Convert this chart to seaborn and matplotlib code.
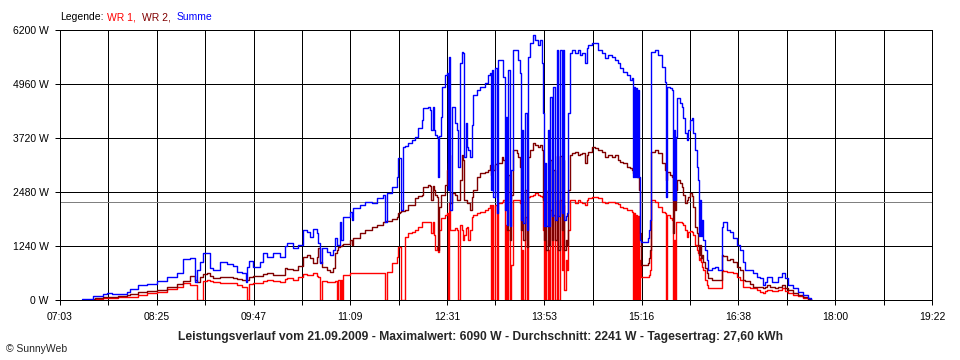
import matplotlib
matplotlib.use("Agg")
import matplotlib.pyplot as plt
import seaborn as sns
import pandas as pd

# ---------------- data (minutes after midnight, watts) ----------------
time_min = [
    441.6, 451.0, 452.7, 459.4, 462.8, 467.1, 472.2, 479.8, 482.3, 489.1,
    496.7, 505.2, 513.7, 522.2, 527.2, 533.2, 537.4, 539.1, 541.6, 544.2,
    547.6, 550.1, 552.7, 558.6, 564.5, 569.6, 573.0, 577.2, 580.6, 581.5,
    583.2, 586.6, 592.5, 595.0, 598.4, 603.5, 609.4, 613.7, 615.4, 620.5,
    624.7, 628.9, 632.3, 634.9, 637.4, 640.8, 641.6, 643.3, 645.0, 649.3,
    651.8, 654.4, 656.1, 657.8, 658.6, 660.3, 661.1, 662.0, 662.8, 668.8,
    670.5, 671.3, 677.2, 681.5, 687.4, 691.7, 696.7, 698.4, 700.1, 704.4,
    708.6, 709.5, 711.1, 712.0, 713.7, 715.4, 717.9, 721.3, 723.9, 726.4,
    729.8, 730.6, 734.9, 736.6, 737.4, 739.1, 740.0, 740.8, 742.5, 743.4,
    744.2, 745.9, 746.7, 749.3, 751.0, 751.8, 752.7, 753.5, 755.2, 757.8,
    759.4, 760.3, 762.0, 763.7, 764.5, 765.4, 767.1, 767.9, 768.8, 770.5,
    772.2, 773.0, 776.4, 778.9, 783.2, 785.7, 787.4, 788.3, 789.1, 790.0,
    791.7, 793.4, 794.2, 797.6, 798.4, 800.1, 801.0, 801.8, 802.7, 804.4,
    805.2, 806.9, 810.3, 811.1, 812.8, 813.7, 814.5, 815.4, 817.1, 818.8,
    819.6, 821.3, 823.9, 825.6, 828.1, 829.8, 831.5, 832.3, 833.2, 834.0,
    834.9, 836.6, 837.4, 838.3, 840.0, 840.8, 842.5, 844.2, 845.0, 846.7,
    848.4, 849.3, 850.1, 851.8, 852.7, 853.5, 855.2, 856.9, 859.5, 862.0,
    863.7, 865.4, 867.9, 869.6, 870.5, 873.9, 876.4, 879.0, 882.3, 884.9,
    887.4, 890.8, 893.4, 895.9, 897.6, 900.1, 903.5, 906.1, 907.8, 908.6,
    909.5, 910.3, 911.2, 912.0, 912.8, 913.7, 914.5, 915.4, 921.3, 922.2,
    923.0, 923.9, 927.3, 929.8, 933.2, 935.7, 936.6, 937.4, 940.0, 941.7,
    942.5, 943.4, 944.2, 945.0, 945.9, 948.4, 950.1, 951.0, 952.7, 954.4,
    955.2, 956.9, 958.6, 959.5, 961.1, 962.8, 963.7, 964.5, 965.4, 966.2,
    967.1, 967.9, 969.6, 971.3, 972.2, 975.5, 978.1, 980.6, 983.2, 984.0,
    984.9, 988.3, 990.8, 993.4, 996.7, 999.3, 1001.8, 1003.5, 1007.8, 1010.3,
    1013.7, 1016.2, 1018.8, 1020.5, 1022.2, 1024.7, 1026.4, 1029.0, 1031.5, 1034.9,
    1037.4, 1040.0, 1044.2, 1048.4, 1052.7, 1056.9, 1059.5,
]

wr1_w = [
    0, 0, 15, 46, 53, 57, 69, 76, 80, 115,
    161, 191, 253, 299, 383, 344, 344, 0, 0, 436,
    459, 436, 413, 397, 390, 383, 344, 305, 305, 0,
    367, 390, 390, 436, 459, 436, 420, 482, 505, 459,
    528, 597, 574, 574, 613, 551, 535, 0, 436, 420,
    420, 420, 436, 0, 459, 0, 459, 0, 574, 613,
    613, 613, 613, 613, 613, 613, 613, 0, 643, 843,
    994, 1224, 1224, 0, 0, 1454, 1539, 1568, 1607, 1683,
    1791, 1798, 1798, 1798, 1539, 1791, 1493, 1148, 1224, 1109,
    1607, 1883, 1883, 1952, 1998, 0, 2227, 1607, 1607, 1653,
    1607, 0, 1722, 1607, 1378, 1493, 1653, 1676, 1378, 1607,
    1913, 1952, 1998, 2021, 2067, 2113, 2181, 0, 2181, 0,
    2181, 0, 2227, 2257, 2296, 0, 1722, 0, 1607, 0,
    804, 2296, 2296, 2296, 2227, 0, 1148, 0, 1913, 0,
    2372, 2388, 2411, 2457, 2411, 2388, 2365, 1607, 0, 1378,
    0, 1148, 0, 2067, 0, 1952, 0, 2296, 0, 2296,
    689, 2181, 230, 919, 689, 1607, 2296, 2296, 2227, 2296,
    2250, 2227, 2181, 2296, 2342, 2365, 2372, 2342, 2257, 2227,
    2257, 2250, 2227, 2204, 2142, 2113, 2067, 2067, 2021, 0,
    1998, 0, 1952, 0, 1929, 0, 919, 535, 535, 574,
    689, 2296, 2257, 2142, 2028, 1998, 0, 1952, 1883, 1837,
    0, 1378, 0, 1791, 1791, 1798, 1768, 1722, 1607, 1454,
    1561, 1584, 1568, 1493, 1263, 1148, 1079, 919, 964, 873,
    765, 689, 459, 344, 276, 276, 276, 276, 276, 689,
    666, 650, 643, 620, 535, 459, 305, 299, 276, 276,
    230, 191, 161, 207, 230, 230, 207, 207, 230, 276,
    207, 161, 115, 92, 46, 23, 0,
]

wr2_w = [
    0, 30, 40, 69, 76, 80, 92, 115, 138, 191,
    207, 230, 299, 367, 443, 558, 459, 420, 535, 597,
    620, 551, 505, 535, 528, 505, 482, 459, 459, 459,
    528, 551, 551, 597, 620, 574, 574, 735, 712, 689,
    781, 987, 1033, 964, 850, 987, 1194, 873, 765, 689,
    650, 735, 1079, 1148, 1224, 1240, 1240, 1263, 1286, 1378,
    1263, 1424, 1539, 1607, 1676, 1722, 1791, 1814, 1814, 1860,
    1913, 1998, 2021, 2044, 2044, 2067, 2181, 2181, 2342, 2388,
    2411, 2602, 2641, 2618, 2296, 2618, 2526, 2411, 2372, 1148,
    2142, 2411, 2411, 2641, 2985, 3146, 3330, 2227, 2457, 2411,
    2296, 2296, 2756, 3330, 3215, 2296, 2296, 2227, 2227, 2067,
    2372, 2526, 2831, 2916, 2939, 2985, 3100, 2870, 3100, 2985,
    3123, 3146, 3146, 3284, 3215, 2526, 2985, 1607, 2870, 1378,
    2411, 3444, 3376, 3291, 3061, 1607, 2296, 1378, 2526, 1224,
    3291, 3444, 3605, 3559, 3520, 3559, 3444, 2296, 1378, 2526,
    1148, 2526, 1263, 3215, 1378, 2985, 1378, 3307, 1148, 3307,
    1607, 3215, 1148, 1378, 1263, 2526, 3330, 3376, 3398, 3330,
    3353, 3376, 3146, 3330, 3398, 3513, 3490, 3444, 3398, 3284,
    3330, 3291, 3330, 3215, 3169, 3146, 3061, 3031, 2985, 2916,
    2916, 2870, 2870, 2831, 2831, 2526, 1539, 804, 850, 964,
    1148, 3405, 3444, 3376, 3146, 2985, 2756, 2939, 2870, 2831,
    1539, 2296, 2067, 2526, 2756, 2687, 2602, 2411, 2227, 2296,
    2372, 2457, 2388, 2142, 1683, 1539, 1263, 1033, 1263, 964,
    1033, 873, 735, 620, 505, 459, 459, 459, 459, 1033,
    1010, 919, 941, 880, 765, 689, 459, 436, 367, 305,
    305, 305, 276, 299, 344, 305, 299, 276, 305, 344,
    276, 230, 161, 115, 69, 23, 0,
]

summe_w = [
    20, 90, 85, 138, 168, 138, 138, 191, 253, 344,
    367, 436, 528, 620, 941, 964, 413, 689, 873, 1079,
    1079, 735, 689, 873, 827, 781, 643, 620, 413, 758,
    896, 758, 873, 1079, 987, 1079, 987, 1240, 1309, 1194,
    1263, 1607, 1561, 1447, 1630, 1539, 1309, 850, 1194, 1102,
    1033, 1148, 1424, 1263, 1263, 1791, 1378, 1378, 1906, 2021,
    1837, 2113, 2181, 2250, 2227, 2342, 2411, 1798, 2457, 2595,
    2824, 3261, 3261, 2067, 3513, 3536, 3605, 3674, 3743, 3950,
    4133, 4409, 4432, 4363, 3904, 4432, 3904, 3789, 3750, 2831,
    3766, 4202, 4898, 5167, 5213, 2526, 5587, 2067, 4432, 4064,
    3904, 3061, 5442, 5702, 5672, 3291, 4064, 3520, 3444, 3291,
    4019, 4707, 4822, 4898, 4983, 5167, 5213, 2526, 5281, 2372,
    5327, 1998, 5511, 5511, 5128, 2067, 4202, 1722, 5281, 1699,
    2985, 5741, 5741, 5511, 5213, 1837, 3904, 1768, 4300, 1607,
    5587, 5901, 6085, 5970, 5856, 5970, 5442, 4294, 1699, 3146,
    1699, 3904, 1699, 4668, 1929, 4898, 1837, 5741, 1929, 5741,
    1998, 5741, 1837, 1929, 1998, 4294, 5672, 5741, 5672, 5741,
    5626, 5672, 5442, 5787, 5856, 5901, 5908, 5741, 5672, 5557,
    5626, 5587, 5511, 5442, 5327, 5243, 5167, 5052, 5098, 2831,
    4898, 2831, 4868, 2831, 4822, 2831, 1378, 1339, 1424, 1607,
    1837, 5695, 5741, 5626, 5357, 5013, 2365, 4898, 4868, 4822,
    2296, 3904, 2296, 3750, 4638, 4524, 4439, 4179, 3835, 3674,
    3904, 4133, 4179, 3835, 3444, 3061, 2756, 1470, 2296, 1470,
    1837, 1378, 1148, 919, 689, 735, 758, 689, 689, 1683,
    1798, 1607, 1568, 1424, 1263, 1148, 880, 689, 689, 620,
    535, 505, 344, 420, 535, 535, 420, 420, 535, 620,
    505, 344, 276, 191, 115, 46, 0,
]

series_names = ["WR 1", "WR 2", "Summe"]
series_colors = ["#ff0000", "#800000", "#0000ff"]
x_tick_labels = ["07:03", "08:25", "09:47", "11:09", "12:31",
                 "13:53", "15:16", "16:38", "18:00", "19:22"]
y_tick_values = [0, 1240, 2480, 3720, 4960, 6200]
average_w = 2241
title_text = ("Leistungsverlauf vom 21.09.2009 - Maximalwert: 6090 W - "
              "Durchschnitt: 2241 W - Tagesertrag: 27,60 kWh")

# ---------------- build table ----------------
frames = []
for name, vals in zip(series_names, [wr1_w, wr2_w, summe_w]):
    frames.append(pd.DataFrame({"t": time_min, "W": vals, "series": name}))
df = pd.concat(frames, ignore_index=True)

# ---------------- figure ----------------
sns.set_style("white")
plt.rcParams["font.family"] = ["Liberation Sans", "DejaVu Sans"]

fig = plt.figure(figsize=(9.6, 3.6), dpi=100)
ax = fig.add_axes([60 / 960, 60 / 360, 872 / 960, 270 / 360])

def to_min(s):
    h, m = s.split(":")
    return int(h) * 60 + int(m)

major = [to_min(s) for s in x_tick_labels]
minor = [(a + b) / 2 for a, b in zip(major[:-1], major[1:])]

ax.axhline(average_w, color="#808080", lw=0.72, zorder=1.5, antialiased=False)

sns.lineplot(data=df, x="t", y="W", hue="series", hue_order=series_names,
             palette=dict(zip(series_names, series_colors)),
             estimator=None, sort=False, drawstyle="steps-post",
             linewidth=1.0, legend=False, ax=ax, zorder=3)

ax.set_xlim(major[0], major[-1])
ax.set_ylim(0, 6200)
ax.set_xticks(major)
ax.set_xticklabels(x_tick_labels)
ax.set_xticks(minor, minor=True)
ax.set_yticks(y_tick_values)
ax.set_yticklabels([f"{v} W" for v in y_tick_values])
ax.set_xlabel("")
ax.set_ylabel("")

ax.grid(True, which="both", axis="x", color="black", lw=0.72, antialiased=False)
ax.grid(True, which="major", axis="y", color="black", lw=0.72, antialiased=False)
ax.set_axisbelow(True)
for sp in ax.spines.values():
    sp.set_color("black")
    sp.set_linewidth(0.72)

ax.tick_params(axis="both", which="both", direction="out", length=3.6,
               width=0.72, color="black", labelsize=7.5, labelcolor="black")
ax.tick_params(axis="x", which="both", bottom=True, pad=5)
ax.tick_params(axis="y", left=True, pad=4.5)

# legend line at top
legend_parts = [("Legende:", "black", 60), ("WR 1,", series_colors[0], 107),
                ("WR 2,", series_colors[1], 142), ("Summe", series_colors[2], 177)]
for txt, col, px in legend_parts:
    fig.text(px / 960, 1 - 17 / 360, txt, color=col, fontsize=7.5,
             ha="left", va="center")

fig.text(6 / 960, 1 - 349 / 360, "\u00a9 SunnyWeb", fontsize=7.5,
         ha="left", va="center")

title = fig.text(480 / 960, 1 - 337 / 360, title_text, fontsize=8,
                 fontweight="bold", ha="center", va="center")
fig.canvas.draw()
w = title.get_window_extent().width
title.set_fontsize(8 * 608 / w)

fig.savefig("out.png", dpi=100)
